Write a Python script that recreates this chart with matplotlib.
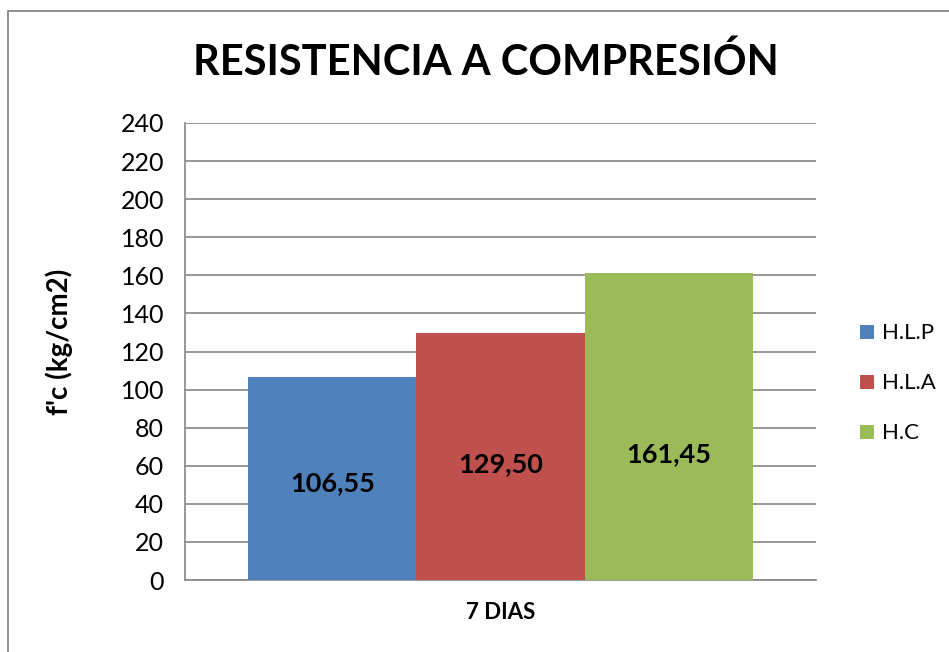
import numpy as np
import matplotlib
matplotlib.use("Agg")
import matplotlib.pyplot as plt
from matplotlib.patches import Rectangle

plt.rcParams['font.family'] = ['Lato', 'DejaVu Sans']

# datos
series = ["H.L.P", "H.L.A", "H.C"]
valores = [106.55, 129.50, 161.45]
etiquetas = ["106,55", "129,50", "161,45"]
colores = ["#4f81bd", "#c0504d", "#9bbb59"]
categoria = "7 DIAS"
yticks = list(range(0, 241, 20))

fig = plt.figure(figsize=(9.49, 6.52), dpi=100)
ax = fig.add_axes([185 / 949, 1 - 580 / 652, 631 / 949, 457 / 652])

x = np.arange(len(series)) - 1
barras = ax.bar(x, valores, width=1.0, color=colores, label=series, zorder=3)

# posicion vertical de las etiquetas (como en Excel)
pos_y = [51, 61, 66]
for xi, yi, t in zip(x, pos_y, etiquetas):
    ax.text(xi, yi, t, ha='center', va='center', fontsize=19.5, fontweight='bold')

ax.set_xlim(-1.875, 1.875)
ax.set_ylim(0, 240)
ax.set_yticks(yticks)
ax.set_yticklabels([str(v) for v in yticks], fontsize=18)
ax.set_xticks([0])
ax.set_xticklabels([categoria], fontsize=16, fontweight='bold')
ax.tick_params(axis='y', length=0, pad=15)
ax.tick_params(axis='x', length=0, pad=16)
ax.grid(axis='y', color='#868686', linewidth=1.2, zorder=0)
for s in ['top', 'right']:
    ax.spines[s].set_visible(False)
ax.spines['left'].set_color('#868686')
ax.spines['bottom'].set_color('#868686')
ax.spines['left'].set_linewidth(1.2)
ax.spines['bottom'].set_linewidth(1.2)

ax.set_ylabel("f'c (kg/cm2)", fontsize=20, fontweight='bold')
ax.yaxis.set_label_coords(-0.178, 0.52)

fig.text(486 / 949, 1 - 62 / 652, "RESISTENCIA A COMPRESIÓN", ha='center', va='center',
         fontsize=30, fontweight='bold')

leg = ax.legend(handles=barras, labels=series, loc='center left', bbox_to_anchor=(1.07, 0.43),
                frameon=False, fontsize=16, handlelength=0.6, handleheight=0.6,
                labelspacing=1.35, handletextpad=0.4, borderpad=0, borderaxespad=0)

# borde del grafico
fig.patches.append(Rectangle((8 / 949, -0.1), 1.2, 1 - 11 / 652 + 0.1, transform=fig.transFigure,
                             fill=False, edgecolor='#868686', linewidth=1.3))

fig.savefig("out.png", dpi=100)
